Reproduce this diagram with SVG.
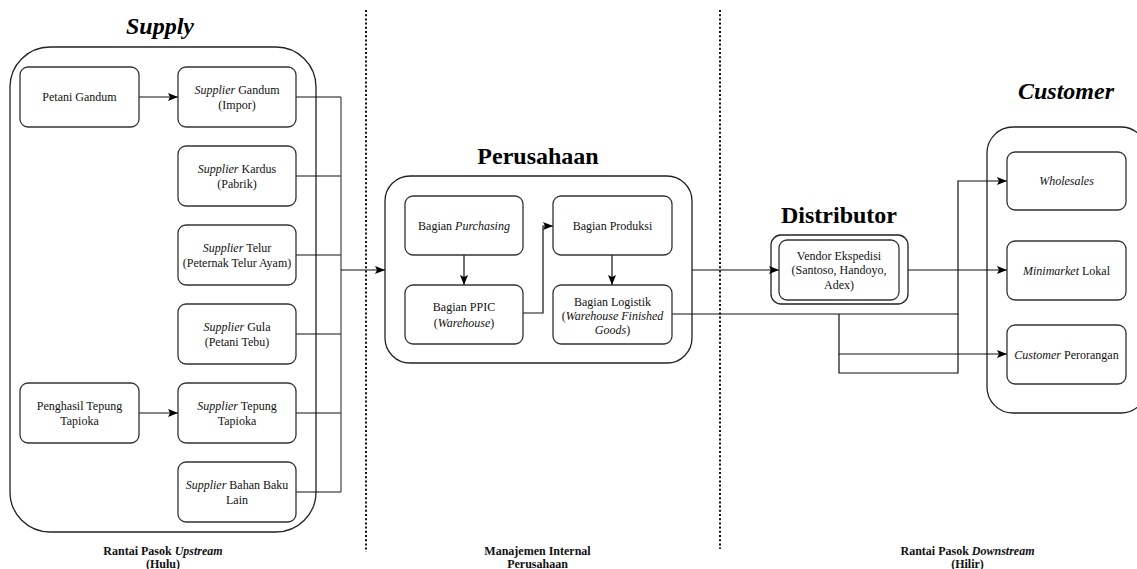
<svg xmlns="http://www.w3.org/2000/svg" width="1137" height="569" viewBox="0 0 1137 569">
  <style>
    .bg { fill: #ffffff; }
    .cont { fill: #ffffff; stroke: #222; stroke-width: 1.3; }
    .box { fill: #ffffff; stroke: #333; stroke-width: 1.3; }
    .wire { fill: none; stroke: #111; stroke-width: 1.2; }
    .bus { fill: none; stroke: #444; stroke-width: 1.2; }
    .sep { fill: none; stroke: #111; stroke-width: 2; stroke-dasharray: 2 2.2; }
    text { font-family: 'Liberation Serif', Tinos, 'Times New Roman', 'DejaVu Serif', 'Noto Serif', serif; }
    .t { font-size: 12px; text-anchor: middle; fill: #111; }
    .title { font-size: 24px; font-weight: bold; text-anchor: middle; fill: #000; }
    .foot { font-size: 12px; font-weight: bold; text-anchor: middle; fill: #111; }
    .i { font-style: italic; }
  </style>
  <defs>
    <marker id="arrow" viewBox="0 0 10 8" markerWidth="10" markerHeight="8" refX="10" refY="4" orient="auto" markerUnits="userSpaceOnUse">
      <path d="M0,0 L10,4 L0,8 L2,4 z" fill="#000"/>
    </marker>
  </defs>

  <rect class="bg" x="0" y="0" width="1137" height="569"/>

  <!-- section separators -->
  <g id="separators">
    <line class="sep" x1="366" y1="10" x2="366" y2="552"/>
    <line class="sep" x1="720" y1="10" x2="720" y2="549"/>
  </g>

  <!-- group containers and their titles -->
  <g id="supply">
    <text class="title i" x="160" y="34" font-family="Liberation Serif, serif">Supply</text>
    <rect class="cont" x="10" y="47" width="306" height="485" rx="40"/>
  </g>
  <g id="perusahaan">
    <text class="title" x="538" y="164">Perusahaan</text>
    <rect class="cont" x="385" y="176" width="307" height="187" rx="25"/>
  </g>
  <g id="distributor">
    <text class="title" x="839" y="223">Distributor</text>
    <rect class="cont" x="771" y="235" width="137" height="69" rx="10"/>
  </g>
  <g id="customer">
    <text class="title i" x="1066" y="99">Customer</text>
    <rect class="cont" x="987" y="127" width="160" height="286" rx="26"/>
  </g>

  <!-- connectors -->
  <g id="connectors">
    <line class="wire" x1="139" y1="97" x2="178" y2="97" marker-end="url(#arrow)"/>
    <line class="wire" x1="139" y1="413" x2="178" y2="413" marker-end="url(#arrow)"/>

    <line class="wire" x1="296" y1="97" x2="341" y2="97"/>
    <line class="wire" x1="296" y1="176" x2="341" y2="176"/>
    <line class="wire" x1="296" y1="255" x2="341" y2="255"/>
    <line class="wire" x1="296" y1="334" x2="341" y2="334"/>
    <line class="wire" x1="296" y1="413" x2="341" y2="413"/>
    <line class="wire" x1="296" y1="492" x2="341" y2="492"/>
    <line class="bus" x1="341" y1="97" x2="341" y2="492"/>
    <line class="wire" x1="341" y1="270" x2="385" y2="270" marker-end="url(#arrow)"/>

    <line class="wire" x1="464" y1="255" x2="464" y2="285" marker-end="url(#arrow)"/>
    <polyline class="wire" points="523,313 543,313 543,226 553,226" marker-end="url(#arrow)"/>
    <line class="wire" x1="612" y1="255" x2="612" y2="285" marker-end="url(#arrow)"/>

    <line class="wire" x1="692" y1="270" x2="779" y2="270" marker-end="url(#arrow)"/>
    <line class="wire" x1="908" y1="270" x2="1007" y2="270" marker-end="url(#arrow)"/>

    <polyline class="wire" points="672,314 958,314 958,181 1007,181" marker-end="url(#arrow)"/>
    <polyline class="wire" points="839,314 839,354 1007,354" marker-end="url(#arrow)"/>
    <polyline class="wire" points="839,354 839,373 958,373 958,314"/>
  </g>

  <!-- supply nodes -->
  <g id="petani-gandum">
    <rect class="box" x="20" y="67" width="119" height="60" rx="8"/>
    <text class="t" x="79.5" y="101">Petani Gandum</text>
  </g>
  <g id="supplier-gandum">
    <rect class="box" x="178" y="67" width="118" height="60" rx="8"/>
    <text class="t" x="237" y="94"><tspan class="i">Supplier</tspan> Gandum</text>
    <text class="t" x="237" y="109">(Impor)</text>
  </g>
  <g id="supplier-kardus">
    <rect class="box" x="178" y="146" width="118" height="60" rx="8"/>
    <text class="t" x="237" y="173"><tspan class="i">Supplier</tspan> Kardus</text>
    <text class="t" x="237" y="188">(Pabrik)</text>
  </g>
  <g id="supplier-telur">
    <rect class="box" x="178" y="225" width="118" height="60" rx="8"/>
    <text class="t" x="237" y="252"><tspan class="i">Supplier</tspan> Telur</text>
    <text class="t" x="237" y="267">(Peternak Telur Ayam)</text>
  </g>
  <g id="supplier-gula">
    <rect class="box" x="178" y="304" width="118" height="60" rx="8"/>
    <text class="t" x="237" y="331"><tspan class="i">Supplier</tspan> Gula</text>
    <text class="t" x="237" y="346">(Petani Tebu)</text>
  </g>
  <g id="penghasil-tepung">
    <rect class="box" x="20" y="383" width="119" height="60" rx="8"/>
    <text class="t" x="79.5" y="410">Penghasil Tepung</text>
    <text class="t" x="79.5" y="425">Tapioka</text>
  </g>
  <g id="supplier-tepung">
    <rect class="box" x="178" y="383" width="118" height="60" rx="8"/>
    <text class="t" x="237" y="410"><tspan class="i">Supplier</tspan> Tepung</text>
    <text class="t" x="237" y="425">Tapioka</text>
  </g>
  <g id="supplier-bahan-baku">
    <rect class="box" x="178" y="462" width="118" height="60" rx="8"/>
    <text class="t" x="237" y="489"><tspan class="i">Supplier</tspan> Bahan Baku</text>
    <text class="t" x="237" y="504">Lain</text>
  </g>

  <!-- company nodes -->
  <g id="bagian-purchasing">
    <rect class="box" x="405" y="196" width="118" height="59" rx="8"/>
    <text class="t" x="464" y="230">Bagian <tspan class="i">Purchasing</tspan></text>
  </g>
  <g id="bagian-produksi">
    <rect class="box" x="553" y="196" width="119" height="59" rx="8"/>
    <text class="t" x="612.5" y="230">Bagian Produksi</text>
  </g>
  <g id="bagian-ppic">
    <rect class="box" x="405" y="285" width="118" height="59" rx="8"/>
    <text class="t" x="464" y="311">Bagian PPIC</text>
    <text class="t" x="464" y="327">(<tspan class="i">Warehouse</tspan>)</text>
  </g>
  <g id="bagian-logistik">
    <rect class="box" x="553" y="285" width="119" height="59" rx="8"/>
    <text class="t" x="612.5" y="305.5">Bagian Logistik</text>
    <text class="t" x="612.5" y="319.5">(<tspan class="i">Warehouse Finished</tspan></text>
    <text class="t" x="612.5" y="334"><tspan class="i">Goods</tspan>)</text>
  </g>

  <!-- distributor node -->
  <g id="vendor-ekspedisi">
    <rect class="box" x="779" y="240" width="120" height="60" rx="8"/>
    <text class="t" x="839" y="259.5">Vendor Ekspedisi</text>
    <text class="t" x="839" y="274">(Santoso, Handoyo,</text>
    <text class="t" x="839" y="288.5">Adex)</text>
  </g>

  <!-- customer nodes -->
  <g id="wholesales">
    <rect class="box" x="1007" y="152" width="119" height="58" rx="8"/>
    <text class="t i" x="1066.5" y="185">Wholesales</text>
  </g>
  <g id="minimarket-lokal">
    <rect class="box" x="1007" y="241" width="119" height="59" rx="8"/>
    <text class="t" x="1066.5" y="274.5"><tspan class="i">Minimarket</tspan> Lokal</text>
  </g>
  <g id="customer-perorangan">
    <rect class="box" x="1007" y="325" width="119" height="59" rx="8"/>
    <text class="t" x="1066.5" y="358.5"><tspan class="i">Customer</tspan> Perorangan</text>
  </g>

  <!-- section captions -->
  <g id="captions">
    <text class="foot" x="163" y="555">Rantai Pasok <tspan class="i">Upstream</tspan></text>
    <text class="foot" x="163" y="568">(Hulu)</text>
    <text class="foot" x="537.5" y="555">Manajemen Internal</text>
    <text class="foot" x="537.5" y="568">Perusahaan</text>
    <text class="foot" x="967.5" y="555">Rantai Pasok <tspan class="i">Downstream</tspan></text>
    <text class="foot" x="967.5" y="568">(Hilir)</text>
  </g>
</svg>
